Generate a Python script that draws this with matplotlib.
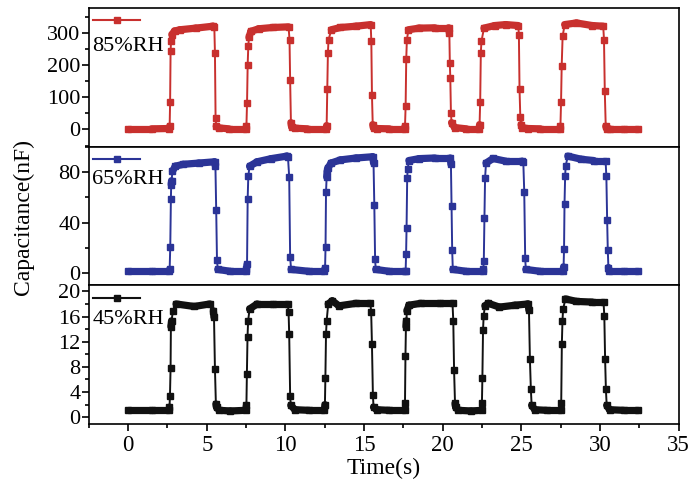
import numpy as np
import matplotlib
matplotlib.use('Agg')
from matplotlib import pyplot as plt
from matplotlib.collections import LineCollection
from matplotlib.lines import Line2D
from matplotlib.ticker import MultipleLocator

plt.rcParams['font.family'] = ['Liberation Serif', 'DejaVu Serif']

# 85%RH (top panel)
t85 = [0.00, 1.50, 2.60, 2.64, 2.67, 2.70, 2.73, 2.78, 2.95, 3.30, 4.30, 5.40, 5.48, 5.52, 5.56, 5.60, 5.75, 6.40, 7.49,
       7.52, 7.56, 7.60, 7.64, 7.68, 7.80, 8.30, 9.20, 10.20, 10.26, 10.30, 10.35, 10.40, 10.60, 11.40, 12.58,
       12.62, 12.66, 12.70, 12.74, 12.92, 13.50, 14.50, 15.42, 15.46, 15.50, 15.55, 15.60, 15.80, 16.60, 17.57,
       17.60, 17.64, 17.68, 17.72, 17.82, 18.50, 19.50, 20.38, 20.42, 20.45, 20.48, 20.52, 20.56, 20.75, 21.50, 22.31,
       22.34, 22.38, 22.42, 22.46, 22.62, 23.30, 24.00, 24.80, 24.84, 24.88, 24.93, 24.98, 25.05, 25.40, 26.20, 27.45,
       27.48, 27.52, 27.56, 27.62, 27.75, 28.50, 29.50, 30.20, 30.25, 30.30, 30.36, 30.42, 30.60, 31.50, 32.40]
c85 = [2, 2, 3, 10, 84, 242, 273, 294, 305, 309, 314, 320, 318, 237, 36, 10, 5, 2, 2,
       10, 82, 201, 258, 285, 304, 312, 316, 318, 278, 152, 21, 8, 4, 2, 2,
       12, 124, 237, 278, 309, 316, 320, 325, 273, 108, 15, 5, 3, 2, 2,
       10, 72, 219, 278, 309, 314, 315, 315, 299, 206, 160, 52, 21, 6, 2, 2,
       15, 85, 237, 273, 314, 322, 325, 322, 294, 126, 39, 15, 6, 3, 2, 2,
       10, 85, 196, 289, 325, 330, 322, 320, 278, 118, 10, 3, 2, 2, 2]

# 65%RH (middle panel)
t65 = [0.00, 1.50, 2.60, 2.64, 2.68, 2.72, 2.74, 2.76, 2.82, 3.00, 3.50, 4.50, 5.50, 5.55, 5.60, 5.65, 5.70, 6.50, 7.48,
       7.52, 7.56, 7.60, 7.64, 7.72, 8.20, 9.10, 10.10, 10.16, 10.24, 10.30, 10.36, 11.50, 12.48,
       12.52, 12.55, 12.58, 12.62, 12.66, 12.70, 12.90, 13.50, 14.50, 15.55, 15.60, 15.65, 15.70, 15.74, 16.60, 17.62,
       17.64, 17.67, 17.70, 17.74, 17.77, 17.85, 18.50, 19.50, 20.48, 20.52, 20.56, 20.60, 20.64, 21.50, 22.55,
       22.58, 22.61, 22.65, 22.69, 22.75, 23.20, 24.00, 25.05, 25.12, 25.18, 25.24, 25.28, 26.20, 27.65,
       27.68, 27.71, 27.74, 27.78, 27.81, 27.95, 28.80, 29.60, 30.35, 30.40, 30.45, 30.49, 30.53, 30.58, 31.50, 32.40]
c65 = [1.5, 1.5, 1.5, 3, 21, 59, 70, 73, 80.5, 84.5, 86, 87, 88, 84.5, 50, 10.4, 3, 1.5, 1.5,
       3, 7, 59, 76.5, 84.5, 88, 90.5, 92.5, 92, 76, 12.5, 3, 1.5, 1.5,
       4, 21, 64, 76, 80.5, 83, 87, 89.5, 91, 92, 87, 54, 11, 3, 1.5, 1.5,
       1.5, 15, 36, 75, 82, 89, 90.5, 91, 91, 86, 53, 18, 3, 1.5, 1.5,
       3, 10, 44, 75, 87, 90.6, 88.5, 88.5, 88, 64.5, 12, 3, 1.5, 1.5,
       5, 19, 55, 76.5, 84.5, 92.5, 90, 89, 89, 76.5, 42, 18.6, 4.5, 1.5, 1.5, 1.5]

# 45%RH (bottom panel)
t45 = [0.00, 1.50, 2.60, 2.63, 2.66, 2.70, 2.72, 2.76, 2.85, 3.05, 4.20, 5.20, 5.42, 5.46, 5.52, 5.58, 5.62, 5.80, 6.50, 7.48,
       7.52, 7.55, 7.59, 7.63, 7.72, 8.20, 9.20, 10.15, 10.20, 10.24, 10.30, 10.34, 10.60, 11.50, 12.48,
       12.51, 12.54, 12.58, 12.62, 12.72, 12.98, 13.40, 14.50, 15.40, 15.45, 15.50, 15.56, 15.60, 15.80, 16.60, 17.58,
       17.60, 17.63, 17.66, 17.69, 17.72, 17.85, 18.60, 19.80, 20.62, 20.67, 20.72, 20.78, 20.82, 21.00, 21.80, 22.48,
       22.49, 22.52, 22.56, 22.60, 22.68, 22.90, 23.60, 24.60, 25.42, 25.48, 25.54, 25.60, 25.65, 25.85, 26.60, 27.50,
       27.53, 27.57, 27.61, 27.65, 27.80, 28.50, 29.50, 30.22, 30.27, 30.32, 30.37, 30.42, 30.60, 31.50, 32.40]
c45 = [1.1, 1.1, 1.1, 1.6, 3.3, 7.9, 14.4, 15.3, 16.9, 18.0, 17.6, 18.0, 16.9, 15.9, 7.7, 2.1, 1.6, 1.1, 1.0, 1.1,
       1.9, 6.8, 12.8, 15.3, 17.2, 18.0, 18.0, 18.0, 16.7, 13.2, 3.4, 1.9, 1.2, 1.1, 1.1,
       2.0, 6.3, 13.2, 15.3, 18.0, 18.5, 17.7, 18.1, 18.1, 16.7, 11.6, 3.6, 1.6, 1.2, 1.1, 1.1,
       2.2, 9.8, 14.4, 15.3, 16.9, 17.8, 18.1, 18.1, 18.1, 15.3, 7.5, 2.2, 1.6, 1.1, 1.0, 1.1,
       2.2, 6.3, 13.8, 16.1, 17.7, 18.1, 17.5, 17.8, 18.0, 17.0, 9.3, 4.5, 1.9, 1.2, 1.1, 1.1,
       2.2, 11.6, 15.3, 17.2, 18.8, 18.4, 18.3, 18.3, 16.1, 9.3, 4.5, 1.9, 1.2, 1.1, 1.1]

labels = ['85%RH', '65%RH', '45%RH']
colors = ['#c8302e', '#2b3497', '#111111']
ylims = [(-53, 377), (-9.6, 100), (-1.1, 20.95)]
majors = [100, 40, 4]
minors = [50, 20, 2]
label_y = [0.72, 0.76, 0.755]


def draw(ax, t, c, color, label, ylim, major, minor, ly):
    t = np.asarray(t, dtype=float)
    c = np.asarray(c, dtype=float)
    pts = np.column_stack([t, c])
    segs = np.stack([pts[:-1], pts[1:]], axis=1)
    # flat parts: dense overlapping markers make a thick band
    flat = np.abs(np.diff(c)) < 0.06 * (c.max() - c.min())
    widths = np.where(flat, 5.2, 1.4)
    lc = LineCollection(segs, linewidths=widths, colors=color, capstyle='round')
    ax.add_collection(lc)
    ax.plot(t, c, 's', ms=4.8, color=color, mec=color)
    ax.set_ylim(*ylim)
    ax.yaxis.set_major_locator(MultipleLocator(major))
    ax.yaxis.set_minor_locator(MultipleLocator(minor))
    ax.tick_params(axis='y', which='major', direction='out', length=5, width=1.2,
                   labelsize=16, pad=1)
    ax.tick_params(axis='y', which='minor', direction='out', length=3, width=1.2)
    for s in ax.spines.values():
        s.set_linewidth(1.2)
    h = Line2D([], [], color=color, marker='s', ms=5, lw=1.5)
    ax.legend([h], [''], loc='upper left', frameon=False, handlelength=2.1,
              fontsize=16, borderaxespad=0.0, borderpad=0.2, handletextpad=0)
    ax.text(0.006, ly, label, transform=ax.transAxes, fontsize=16,
            va='center', ha='left')


fig, axes = plt.subplots(3, 1, sharex=True, figsize=(6.99, 4.87), dpi=100)
fig.subplots_adjust(left=0.127, right=0.971, top=0.984, bottom=0.129, hspace=0)

data = [(t85, c85), (t65, c65), (t45, c45)]
for i, ax in enumerate(axes):
    draw(ax, data[i][0], data[i][1], colors[i], labels[i], ylims[i],
         majors[i], minors[i], label_y[i])
    if i < 2:
        ax.tick_params(axis='x', which='both', bottom=False, labelbottom=False)

axb = axes[2]
axb.set_xlim(-2.5, 35)
axb.xaxis.set_major_locator(MultipleLocator(5))
axb.xaxis.set_minor_locator(MultipleLocator(2.5))
axb.tick_params(axis='x', which='major', direction='out', length=5, width=1.2,
                labelsize=16.5, pad=3)
axb.tick_params(axis='x', which='minor', direction='out', length=3, width=1.2)
axb.set_xlabel('Time(s)', fontsize=17, labelpad=1)

fig.text(0.034, 0.554, 'Capacitance(nF)', rotation=90, fontsize=17,
         va='center', ha='center')

fig.savefig('out.png', dpi=100)
